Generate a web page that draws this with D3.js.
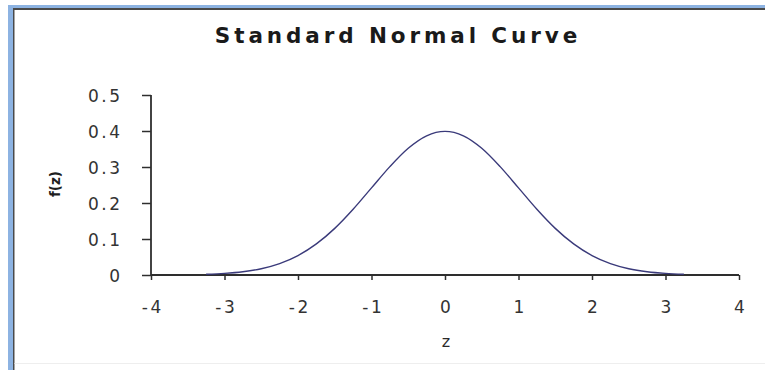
<!DOCTYPE html>
<html><head><meta charset="utf-8">
<script src="https://cdn.jsdelivr.net/npm/d3@7"></script>
<style>body{margin:0;background:#fff}svg{display:block}</style>
</head><body>
<svg id="c" width="765" height="370"></svg>
<script>
const title = "Standard Normal Curve";
const xLabel = "z";
const yLabel = "f(z)";
const zValues = [-3.25,-3,-2.75,-2.5,-2.25,-2,-1.75,-1.5,-1.25,-1,-0.75,-0.5,-0.25,0,0.25,0.5,0.75,1,1.25,1.5,1.75,2,2.25,2.5,2.75,3,3.25];
const fValues = [0.0020,0.0044,0.0091,0.0175,0.0317,0.0540,0.0863,0.1295,0.1826,0.2420,0.3011,0.3521,0.3867,0.3989,0.3867,0.3521,0.3011,0.2420,0.1826,0.1295,0.0863,0.0540,0.0317,0.0175,0.0091,0.0044,0.0020];
const xTicks = [-4,-3,-2,-1,0,1,2,3,4];
const yTicks = [0,0.1,0.2,0.3,0.4,0.5];

const svg = d3.select("#c");
// frame
svg.append("rect").attr("x",8).attr("y",5).attr("width",765).attr("height",370).attr("fill","#8db3e2");
svg.append("rect").attr("x",13).attr("y",8).attr("width",765).attr("height",370).attr("fill","#4a4a4a");
svg.append("rect").attr("x",14.5).attr("y",10).attr("width",765).attr("height",370).attr("fill","#fff");
svg.append("line").attr("x1",14.5).attr("x2",765).attr("y1",363.5).attr("y2",363.5).attr("stroke","#eeeeee");

const x = d3.scaleLinear().domain([-4,4]).range([151,739]);
const y = d3.scaleLinear().domain([0,0.5]).range([275,95]);

const font = "'DejaVu Sans', Verdana, sans-serif";
const ls = 2.5;

svg.append("text").attr("x",396 + 2).attr("y",43).attr("text-anchor","middle")
  .attr("font-family",font).attr("font-weight","bold").attr("font-size",21.5)
  .attr("letter-spacing",3.9).attr("fill","#1a1a1a").text(title);

const yAxis = svg.append("g").attr("transform","translate(151,0)")
  .call(d3.axisLeft(y).tickValues(yTicks).tickSize(9).tickPadding(12)
    .tickFormat(d=>d===0?"0":d3.format(".1f")(d)));
const xAxis = svg.append("g").attr("transform","translate(0,275)")
  .call(d3.axisBottom(x).tickValues(xTicks).tickSize(5).tickPadding(21)
    .tickFormat(d=>String(d)));
[yAxis,xAxis].forEach(g=>{
  g.select(".domain").attr("stroke","#2e2e2e").attr("stroke-width",1.8);
  g.selectAll(".tick line").attr("stroke","#2e2e2e").attr("stroke-width",1.5);
  g.selectAll(".tick text").attr("font-family",font).attr("font-size",17)
    .attr("fill","#333").attr("letter-spacing",ls);
});
xAxis.select(".domain").attr("d","M151,0H739");
yAxis.select(".domain").attr("d","M0,95V275");
yAxis.selectAll(".tick text").attr("x",-(151-120)+ls).attr("dy","0.36em");
xAxis.selectAll(".tick text").attr("dx",ls/2).attr("y",38).attr("dy",null);

svg.append("text").attr("x",446).attr("y",347).attr("text-anchor","middle")
  .attr("font-family",font).attr("font-size",16).attr("fill","#2a2a2a").text(xLabel);
svg.append("text").attr("transform","translate(60,184) rotate(-90)").attr("text-anchor","middle")
  .attr("font-family",font).attr("font-weight","bold").attr("font-size",13.5).attr("fill","#1e1e1e").text(yLabel);

const data = zValues.map((z,i)=>({z, f:fValues[i]}));
svg.append("path").datum(data)
  .attr("d", d3.line().x(d=>x(d.z)).y(d=>y(d.f)).curve(d3.curveMonotoneX))
  .attr("fill","none").attr("stroke","#3a3a7a").attr("stroke-width",1.4);
</script>
</body></html>
